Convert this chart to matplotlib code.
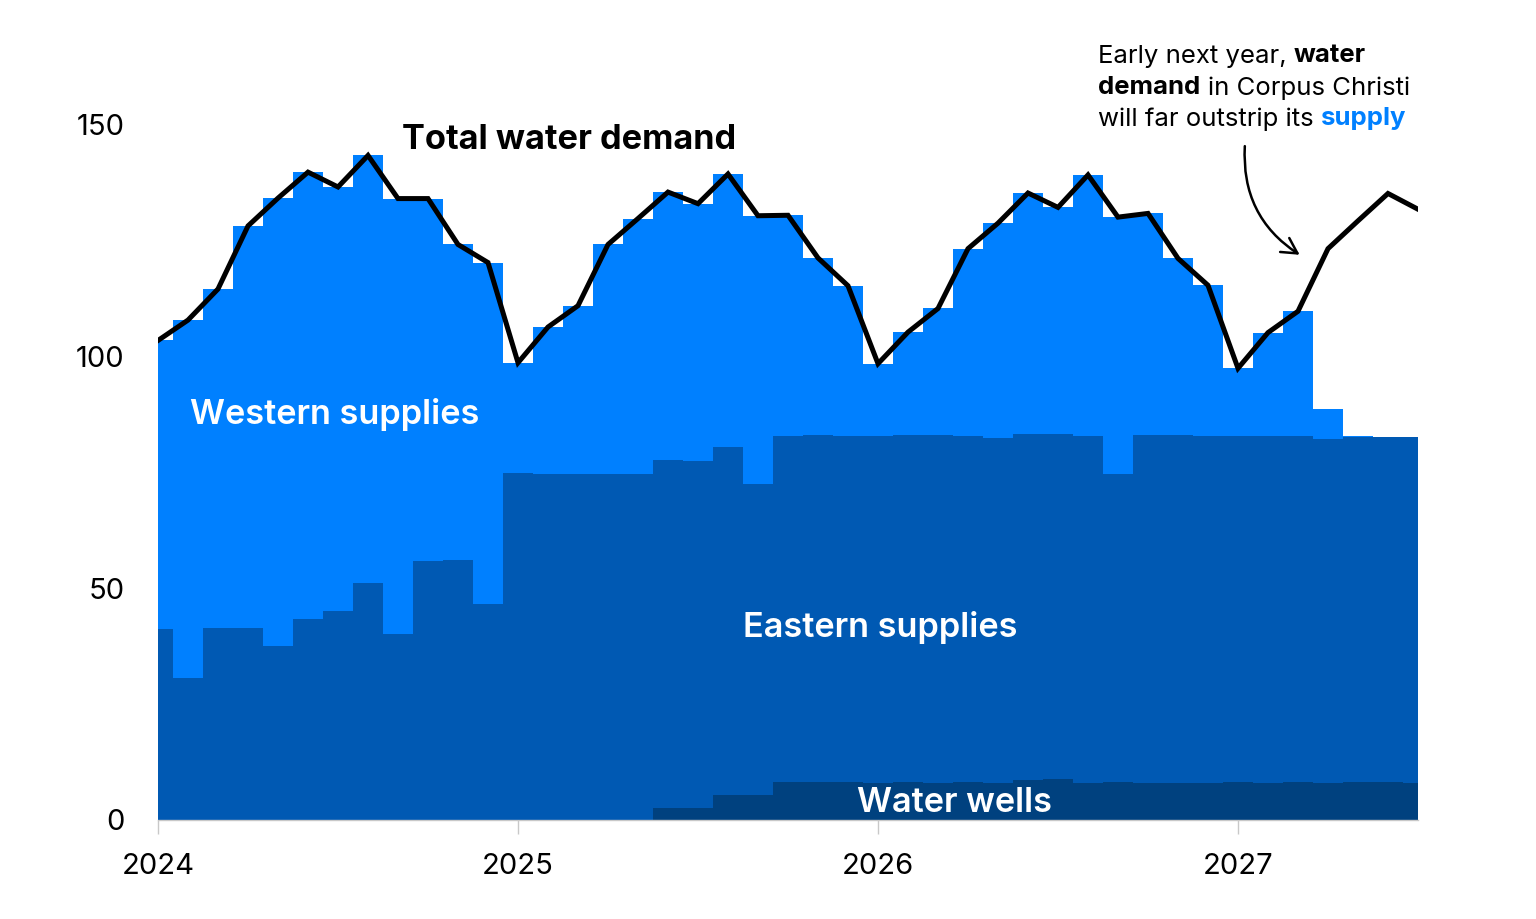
import numpy as np
import matplotlib
matplotlib.use("Agg")
import matplotlib.pyplot as plt
from matplotlib.patches import FancyArrowPatch

# ---------------- data (monthly, Jan 2024 .. Jul 2027) ----------------
months = np.arange(43)
year_ticks = [0, 12, 24, 36]
year_labels = ["2024", "2025", "2026", "2027"]
y_ticks = [0, 50, 100, 150]

demand = [103.4, 107.8, 114.5, 128.1, 134.1, 139.7, 136.5, 143.3, 134.0, 134.0, 124.1, 120.2,
          98.6, 106.3, 110.9, 124.1, 129.7, 135.4, 132.9, 139.3, 130.3, 130.4, 121.2, 115.2,
          98.4, 105.2, 110.3, 123.2, 128.7, 135.2, 132.1, 139.1, 130.0, 130.8, 121.1, 115.3,
          97.4, 105.1, 109.7, 123.2, 129.2, 135.1, 131.7]

water_wells = [0, 0, 0, 0, 0, 0, 0, 0, 0, 0, 0, 0,
               0, 0, 0, 0, 0, 2.6, 2.5, 5.4, 5.4, 8.2, 8.1, 8.1,
               8.0, 8.1, 8.0, 8.2, 8.0, 8.6, 8.8, 8.0, 8.1, 8.0, 8.0, 7.9,
               8.1, 8.0, 8.1, 8.0, 8.1, 8.1, 8.0]

eastern = [41.2, 30.6, 41.4, 41.4, 37.5, 43.3, 45.0, 51.1, 40.1, 55.8, 56.0, 46.6,
           74.8, 74.7, 74.6, 74.6, 74.7, 75.0, 74.9, 75.0, 67.0, 74.6, 74.9, 74.8,
           74.9, 74.9, 75.0, 74.7, 74.4, 74.6, 74.4, 74.8, 66.5, 75.0, 75.0, 74.9,
           74.6, 74.7, 74.6, 74.2, 74.5, 74.4, 74.5]

western = [62.2, 77.2, 73.1, 86.7, 96.6, 96.4, 91.5, 92.2, 93.9, 78.2, 68.1, 73.6,
           23.8, 31.6, 36.3, 49.5, 55.0, 57.8, 55.5, 58.9, 57.9, 47.6, 38.2, 32.3,
           15.5, 22.2, 27.3, 40.3, 46.3, 52.0, 48.9, 56.3, 55.4, 47.8, 38.1, 32.5,
           14.7, 22.4, 27.0, 6.4, 0.2, 0.0, 0.0]

# ---------------- style ----------------
C_WEST = "#0080FF"
C_EAST = "#0059B3"
C_WELL = "#00417F"
FONT = ["Inter", "Lato", "DejaVu Sans"]
plt.rcParams["font.family"] = FONT

fig = plt.figure(figsize=(15.36, 9.19), dpi=100)
ax = fig.add_axes([158 / 1536, 1 - 820 / 919, 1260 / 1536, 742 / 919])

wells_arr = np.array(water_wells)
east_top = wells_arr + np.array(eastern)
total_top = east_top + np.array(western)

ax.fill_between(months, 0, total_top, step="mid", color=C_WEST, lw=0)
ax.fill_between(months, 0, east_top, step="mid", color=C_EAST, lw=0)
ax.fill_between(months, 0, wells_arr, step="mid", color=C_WELL, lw=0)
ax.plot(months, demand, color="black", lw=3.6, solid_joinstyle="miter", zorder=5)

ax.set_xlim(0, 42)
ax.set_ylim(0, 160)
for s in ["top", "right", "left"]:
    ax.spines[s].set_visible(False)
ax.spines["bottom"].set_color("#c8c8c8")
ax.spines["bottom"].set_linewidth(1)

ax.set_xticks(year_ticks)
ax.set_xticklabels(year_labels)
ax.set_yticks(y_ticks)
ax.set_yticklabels([str(v) for v in y_ticks])
ax.tick_params(axis="x", length=10, width=1, color="#c8c8c8", pad=14, labelsize=21)
ax.tick_params(axis="y", length=0, pad=24, labelsize=21)
for lab in ax.get_xticklabels() + ax.get_yticklabels():
    lab.set_fontweight("normal")

# series labels
LBL = 24.7
ax.text(8.13, 146.6, "Total water demand", fontsize=LBL, fontweight="bold",
        color="black", va="center", ha="left")
ax.text(1.07, 87.4, "Western supplies", fontsize=LBL, fontweight="semibold",
        color="white", va="center", ha="left")
ax.text(19.5, 41.6, "Eastern supplies", fontsize=LBL, fontweight="semibold",
        color="white", va="center", ha="left")
ax.text(23.3, 3.7, "Water wells", fontsize=LBL, fontweight="semibold",
        color="white", va="center", ha="left")

# rich annotation text
fig.canvas.draw()
renderer = fig.canvas.get_renderer()
ANN_SIZE = 18.5


def text_width_px(s, weight):
    t = fig.text(0, 0, s, fontsize=ANN_SIZE, fontweight=weight)
    w = t.get_window_extent(renderer).width
    t.remove()
    return w


space_w = text_width_px("x x", "normal") - text_width_px("xx", "normal")

lines = [
    [("Early next year,", "normal", "black"), ("water", "bold", "black")],
    [("demand", "bold", "black"), ("in Corpus Christi", "normal", "black")],
    [("will far outstrip its", "normal", "black"), ("supply", "bold", C_WEST)],
]
line_y_px = [56, 88, 119]
for parts, ypx in zip(lines, line_y_px):
    xpx = 1098
    for txt, wt, col in parts:
        t = fig.text(xpx / 1536, 1 - ypx / 919, txt, fontsize=ANN_SIZE, fontweight=wt,
                     color=col, va="center", ha="left")
        xpx += t.get_window_extent(renderer).width + space_w

arrow = FancyArrowPatch(((1245 - 158) / 30, (820 - 143) / 4.64),
                        ((1302 - 158) / 30, (820 - 256) / 4.64),
                        connectionstyle="arc3,rad=0.3", arrowstyle="->,head_length=11,head_width=6",
                        color="black", lw=1.8, clip_on=False, zorder=6)
ax.add_patch(arrow)

fig.savefig("out.png", dpi=100)
